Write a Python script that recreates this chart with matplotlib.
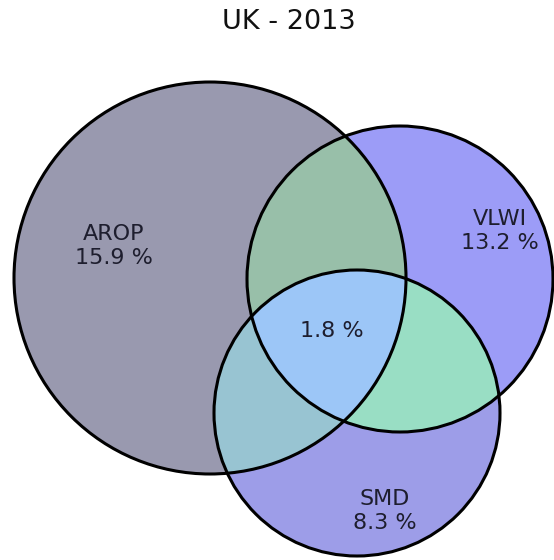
import matplotlib
matplotlib.use('Agg')
import matplotlib.pyplot as plt
from matplotlib.patches import Circle
import numpy as np

# sets and their values
set_names = ['AROP', 'VLWI', 'SMD']
set_values = ['15.9 %', '13.2 %', '8.3 %']
center_value = '1.8 %'

# circle geometry (pixel units, y down)
cx = [210, 400, 357]
cy = [278, 279, 413]
radius = [196, 153, 143]

# region colours
col_a = '#9a9aaf'
col_b = '#9c9cf7'
col_c = '#9d9de9'
col_ab = '#98bfa9'
col_bc = '#9adfc4'
col_ac = '#98c4d3'
col_abc = '#9cc6f7'

W, H = 554, 560
fig = plt.figure(figsize=(W / 100, H / 100), dpi=100)
ax = fig.add_axes([0, 0, 1, 1])

# colour each region with membership masks
xx, yy = np.meshgrid(np.arange(W * 2) / 2 + 0.25, np.arange(H * 2) / 2 + 0.25)
inside = [(xx - cx[i])**2 + (yy - cy[i])**2 <= radius[i]**2 for i in range(3)]
a, b, c = inside
img = np.ones((H * 2, W * 2, 4))
img[..., 3] = 0
regions = [
    (a & ~b & ~c, col_a), (b & ~a & ~c, col_b), (c & ~a & ~b, col_c),
    (a & b & ~c, col_ab), (b & c & ~a, col_bc), (a & c & ~b, col_ac),
    (a & b & c, col_abc),
]
for mask, col in regions:
    img[mask] = matplotlib.colors.to_rgba(col)
ax.imshow(img, extent=(0, W, H, 0), interpolation='antialiased')

for i in range(3):
    ax.add_patch(Circle((cx[i], cy[i]), radius[i], fill=False,
                        edgecolor='black', linewidth=2.2))

# labels
txt_col = '#1e1e2e'
label_pos = [(114, 246), (500, 231), (385, 511)]
for (x, y), name, val in zip(label_pos, set_names, set_values):
    ax.text(x, y, name + '\n' + val, ha='center', va='center',
            multialignment='center', fontsize=16, color=txt_col)
ax.text(332, 331, center_value, ha='center', va='center', fontsize=16, color=txt_col)

ax.set_xlim(0, W)
ax.set_ylim(H, 0)
ax.axis('off')

fig.text(0.522, 1 - 22 / H, 'UK - 2013', ha='center', va='center', fontsize=19.5, color='#111111')

fig.savefig('out.png', dpi=100)
